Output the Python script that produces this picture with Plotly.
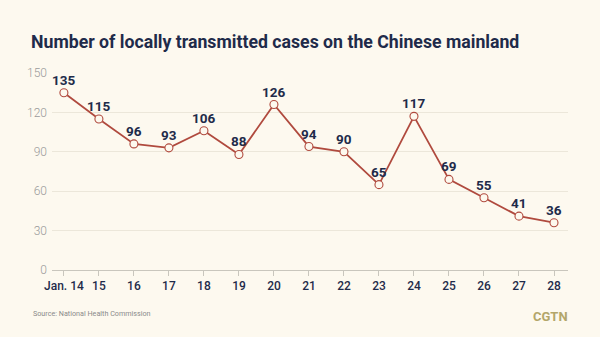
import plotly.graph_objects as go

dates = ["Jan. 14", "15", "16", "17", "18", "19", "20", "21", "22", "23", "24", "25", "26", "27", "28"]
cases = [135, 115, 96, 93, 106, 88, 126, 94, 90, 65, 117, 69, 55, 41, 36]
y_ticks = [0, 30, 60, 90, 120, 150]

BG = "#fdf9ef"
NAVY = "#1f2b4a"
RED = "#b04a3e"
FONT = "Roboto, sans-serif"

# plot-area geometry in pixels (for converting paper coords)
L, R, T, B = 52, 568, 73, 270


def px(x):
    return (x - L) / (R - L)


def py(y):
    return (B - y) / (B - T)


xs = list(range(len(dates)))

fig = go.Figure()
fig.add_trace(go.Scatter(
    x=xs, y=cases,
    mode="lines+markers",
    line=dict(color=RED, width=1.8),
    marker=dict(size=8, color=BG, line=dict(color=RED, width=1.1)),
    cliponaxis=False,
    hoverinfo="skip",
))

value_labels = [
    dict(x=x, y=v, xref="x", yref="y", text=f"<b>{v}</b>", showarrow=False,
         yanchor="bottom", yshift=3,
         font=dict(family=FONT, size=13.5, color=NAVY))
    for x, v in zip(xs, cases)
]

fig.update_layout(
    width=600, height=337,
    margin=dict(l=L, r=600 - R, t=T, b=337 - B),
    paper_bgcolor=BG, plot_bgcolor=BG,
    showlegend=False,
    title=dict(
        text="<b>Number of locally transmitted cases on the Chinese mainland</b>",
        x=31 / 600, xanchor="left", y=1 - 42 / 337, yanchor="middle",
        font=dict(family=FONT, size=17.7, color=NAVY),
    ),
    xaxis=dict(
        range=[-0.34, 14.4],
        tickmode="array", tickvals=xs, ticktext=dates,
        showgrid=False, zeroline=False,
        showline=True, linecolor="#c9c6bd", linewidth=1,
        ticks="outside", ticklen=5, tickcolor="#c9c6bd",
        tickfont=dict(family=FONT, size=12, color=NAVY, weight=500),
    ),
    yaxis=dict(
        range=[0, 150],
        tickmode="array", tickvals=y_ticks,
        showgrid=True, gridcolor="#ece7da", gridwidth=1,
        zeroline=False, showline=False,
        ticks="", ticklabelstandoff=4,
        tickfont=dict(family=FONT, size=12, color="#9a9a9a", weight=300),
    ),
    annotations=value_labels + [
        dict(text="Source: National Health Commission", x=px(31), y=py(313),
             xref="paper", yref="paper", xanchor="left", yanchor="middle",
             showarrow=False, font=dict(family=FONT, size=7.2, color="#8a8a8a")),
        dict(text="<b>CGTN</b>", x=px(570), y=py(316),
             xref="paper", yref="paper", xanchor="right", yanchor="middle",
             showarrow=False, font=dict(family=FONT, size=13, color="#b3a66a")),
    ],
)

fig.write_html("out.html")
